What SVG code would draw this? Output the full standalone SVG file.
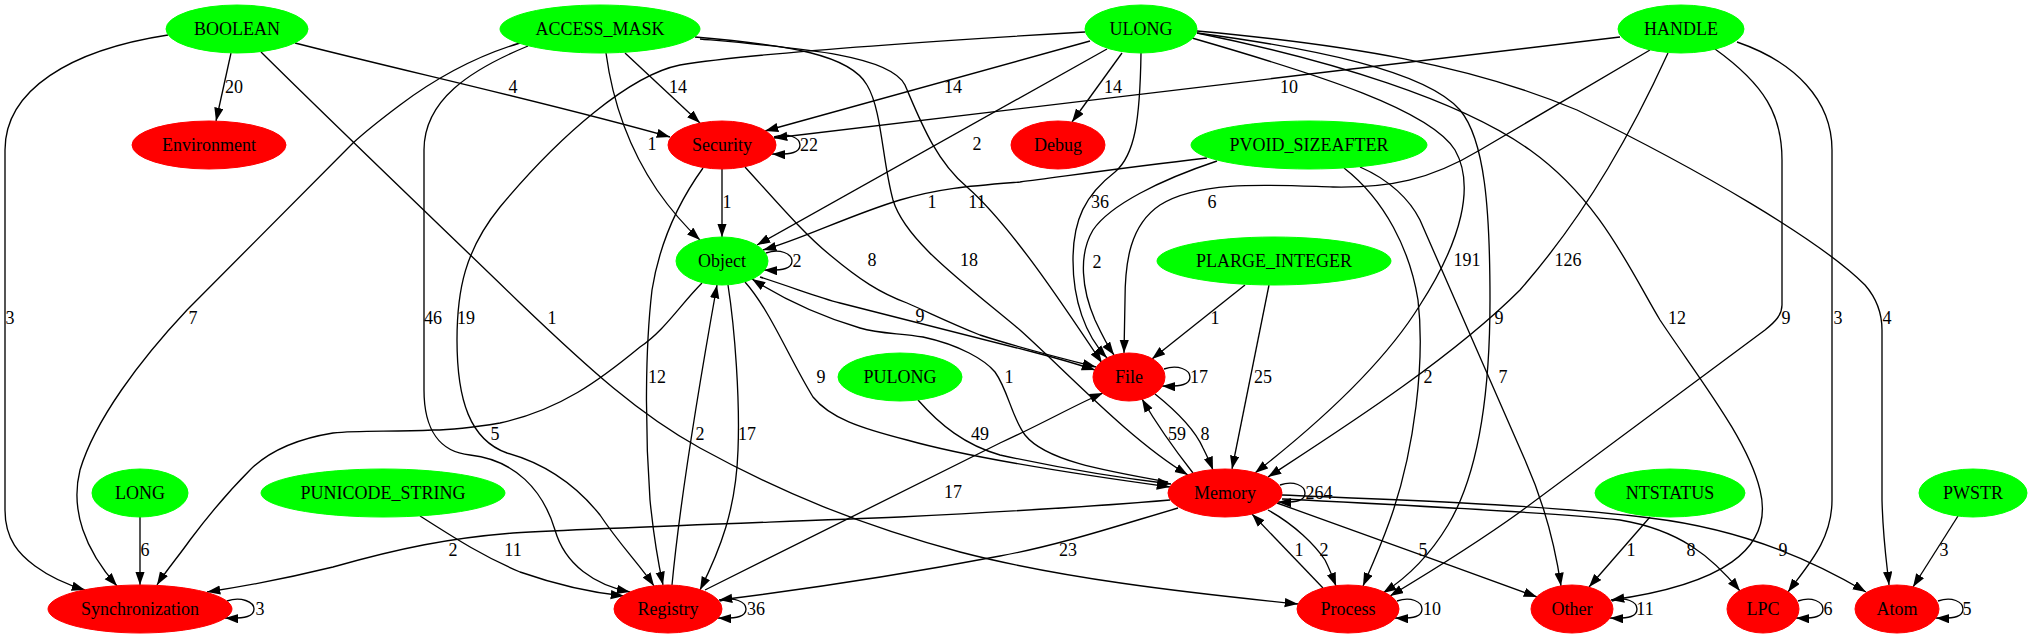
<svg xmlns="http://www.w3.org/2000/svg" width="2034" height="639" viewBox="0 0 2034 639">
<defs>
<marker id="a" markerWidth="14" markerHeight="10" refX="13.3" refY="4.67" orient="auto" markerUnits="userSpaceOnUse"><path d="M0,0 L13.3,4.67 L0,9.33 z" fill="#000"/></marker>
</defs>
<style>
text{font-family:"Liberation Serif","Times New Roman",serif;font-size:18px;fill:#000;text-anchor:middle}
.g ellipse{fill:#00ff00;stroke:#00ff00}
.r ellipse{fill:#ff0000;stroke:#ff0000}
#edges path{fill:none;stroke:#000;stroke-width:1.33;marker-end:url(#a)}
</style>
<rect width="2034" height="639" fill="#fff"/>
<g id="edges">
<path d="M231,53 L216,121"/><text x="234" y="93">20</text>
<path d="M295,43 C400,70 550,103 670,137"/><text x="513" y="93">4</text>
<path d="M168,35 C70,50 5,90 5,150 L5,510 C5,540 20,555 35,566 C50,577 65,584 85,590"/><text x="10" y="324">3</text>
<path d="M261,52 C350,140 450,235 520,303 C590,370 640,415 700,448 C780,492 860,525 960,552 C1060,578 1180,592 1298,604"/><text x="552" y="324">1</text>
<path d="M625,53 L700,123"/><text x="678" y="93">14</text>
<path d="M606,53 C613,105 630,150 657,190 C673,213 688,229 700,240"/><text x="652" y="150">1</text>
<path d="M520,43 C480,55 440,75 400,105 C380,120 365,132 353,143 L187,310 C140,360 95,420 80,470 C70,510 85,550 117,586"/><text x="193" y="324">7</text>
<path d="M528,46 C470,70 424,100 424,150 L424,390 C424,430 440,452 470,455 C515,460 543,490 555,530 C565,565 595,585 630,592"/><text x="433" y="324">46</text>
<path d="M1085,32 C950,40 760,52 680,65 C630,75 560,135 500,207 C465,250 457,290 457,340 C457,400 470,440 507,453 C550,465 580,490 600,515 C620,545 640,565 654,586"/><text x="466" y="324">19</text>
<path d="M695,37 C790,45 850,55 867,85 C882,110 882,160 893,200 C905,240 960,280 1020,330 C1070,375 1130,440 1188,475"/><text x="969" y="266">18</text>
<path d="M700,39 C800,48 890,55 905,85 C920,120 935,160 967,187 C1010,225 1060,300 1102,363"/><text x="977" y="208">11</text>
<path d="M1090,41 L765,131"/><text x="953" y="93">14</text>
<path d="M1122,53 L1072,122"/><text x="1113" y="93">14</text>
<path d="M1107,49 L757,245"/><text x="977" y="150">2</text>
<path d="M1141,53 C1140,120 1135,155 1115,172 C1085,195 1073,220 1073,260 C1073,300 1085,335 1107,358"/><text x="1100" y="208">36</text>
<path d="M1620,37 L774,138"/><text x="1289" y="93">10</text>
<path d="M1650,50 C1600,80 1540,115 1480,150 C1430,180 1390,188 1333,187 C1270,185 1200,180 1160,205 C1130,225 1125,262 1125,300 L1124,353"/><text x="1212" y="208">6</text>
<path d="M1668,53 C1635,125 1590,210 1520,290 C1450,360 1340,430 1268,477"/><text x="1568" y="266">126</text>
<path d="M1715,49 C1765,85 1782,115 1782,160 L1782,305 C1782,315 1775,322 1765,330 L1520,512 C1470,548 1425,575 1390,596"/><text x="1786" y="324">9</text>
<path d="M1737,42 C1795,62 1832,100 1832,150 L1832,500 C1832,540 1808,565 1788,592"/><text x="1838" y="324">3</text>
<path d="M1192,38 C1320,75 1430,110 1455,150 C1475,185 1462,240 1420,305 C1380,370 1310,430 1255,473"/><text x="1467" y="266">191</text>
<path d="M1197,33 C1310,48 1425,70 1460,110 C1485,140 1490,210 1490,300 C1490,410 1475,480 1448,525 C1430,555 1408,577 1383,593"/><text x="1499" y="324">9</text>
<path d="M1197,33 C1330,60 1460,100 1530,150 C1600,200 1630,270 1660,320 C1700,380 1748,440 1760,490 C1775,550 1720,585 1611,600"/><text x="1677" y="324">12</text>
<path d="M1197,31 C1350,45 1470,65 1577,110 C1700,170 1820,240 1865,285 C1878,300 1882,315 1882,330 L1882,500 C1883,540 1887,565 1889,585"/><text x="1887" y="324">4</text>
<path d="M1207,158 C1120,168 1060,177 1020,182 C970,186 940,188 900,200 C850,215 800,240 763,250"/><text x="932" y="208">1</text>
<path d="M1217,161 C1160,180 1110,205 1093,230 C1078,255 1082,290 1095,320 C1102,335 1109,348 1114,355"/><text x="1097" y="268">2</text>
<path d="M1344,168 C1385,200 1410,250 1418,300 C1425,360 1415,450 1390,520 C1380,548 1370,570 1363,586"/><text x="1428" y="383">2</text>
<path d="M1360,167 C1390,180 1410,200 1420,220 C1450,290 1495,390 1525,460 C1545,505 1555,545 1561,586"/><text x="1503" y="383">7</text>
<path d="M1245,285 L1152,359"/><text x="1215" y="324">1</text>
<path d="M1269,285 L1232,469"/><text x="1263" y="383">25</text>
<path d="M722,169 L722,237"/><text x="727" y="208">1</text>
<path d="M703,168 C680,200 660,240 652,290 C645,350 645,430 650,500 C654,540 658,562 663,585"/><text x="657" y="383">12</text>
<path d="M745,167 C775,200 805,235 830,255 C860,280 880,293 907,303 C930,313 950,323 980,335 C1020,348 1060,358 1096,367"/><text x="872" y="266">8</text>
<path d="M760,277 C800,290 820,298 840,303 L1033,352 C1060,359 1080,365 1095,370"/><text x="920" y="322">9</text>
<path d="M1168,482 C1100,470 1045,460 1025,435 C1012,418 1008,390 995,372 C985,360 960,345 923,337 C900,333 880,334 860,328 C820,316 785,300 752,279"/><text x="1009" y="383">1</text>
<path d="M745,282 C770,310 790,360 813,397 C830,418 860,428 907,440 C960,455 1060,472 1170,487"/><text x="821" y="383">9</text>
<path d="M918,400 C940,425 965,445 1000,455 C1060,468 1120,478 1171,484"/><text x="980" y="440">49</text>
<path d="M702,283 C680,305 665,330 640,347 C600,380 560,410 500,423 C470,428 450,430 433,430 C390,432 360,430 333,433 C290,440 265,455 250,470 C225,495 205,520 190,540 C178,557 165,572 157,585"/><text x="495" y="440">5</text>
<path d="M672,585 C680,500 700,380 717,285"/><text x="700" y="440">2</text>
<path d="M728,285 C735,330 740,400 738,450 C736,510 720,550 700,590"/><text x="747" y="440">17</text>
<path d="M705,590 L1000,443 C1040,425 1075,405 1103,393"/><text x="953" y="498">17</text>
<path d="M1170,500 C1100,506 1000,512 900,517 C750,523 600,528 513,533 C450,538 400,548 333,567 C280,580 240,587 207,592"/><text x="453" y="556">2</text>
<path d="M1178,508 C1120,525 1060,545 1000,556 C900,575 800,590 719,600"/><text x="1068" y="556">23</text>
<path d="M1268,510 C1295,525 1315,545 1325,560 C1330,570 1333,578 1336,586"/><text x="1324" y="556">2</text>
<path d="M1323,588 L1252,514"/><text x="1299" y="556">1</text>
<path d="M1277,503 C1350,530 1450,565 1537,597"/><text x="1423" y="556">5</text>
<path d="M1282,495 C1400,500 1550,505 1650,518 C1750,530 1820,565 1866,592"/><text x="1783" y="556">9</text>
<path d="M1282,499 C1400,505 1550,512 1620,520 C1680,530 1712,557 1740,591"/><text x="1691" y="556">8</text>
<path d="M1650,517 L1589,587"/><text x="1631" y="556">1</text>
<path d="M1958,516 L1913,587"/><text x="1944" y="556">3</text>
<path d="M140,517 L140,585"/><text x="145" y="556">6</text>
<path d="M420,516 C450,535 480,555 520,572 C560,586 595,593 624,596"/><text x="513" y="556">11</text>
<path d="M1155,394 C1175,410 1195,430 1203,448 C1207,456 1210,462 1213,470"/><text x="1205" y="440">8</text>
<path d="M1193,473 C1175,450 1160,430 1142,399"/><text x="1177" y="440">59</text>
<path d="M774,137 C788,132 800,138 800,145 C800,152 792,155 772,154"/><text x="809" y="151">22</text>
<path d="M766,253 C780,248 792,254 792,261 C792,268 784,271 764,270"/><text x="797" y="267">2</text>
<path d="M1164,369 C1178,364 1190,370 1190,377 C1190,384 1182,387 1162,386"/><text x="1199" y="383">17</text>
<path d="M1280,485 C1294,480 1305,486 1305,493 C1305,500 1298,503 1278,502"/><text x="1319" y="499">264</text>
<path d="M227,601 C241,596 254,602 254,609 C254,616 246,619 225,618"/><text x="260" y="615">3</text>
<path d="M720,601 C734,596 746,602 746,609 C746,616 738,619 718,618"/><text x="756" y="615">36</text>
<path d="M1397,601 C1411,596 1422,602 1422,609 C1422,616 1415,619 1395,618"/><text x="1432" y="615">10</text>
<path d="M1612,601 C1626,596 1637,602 1637,609 C1637,616 1630,619 1610,618"/><text x="1645" y="615">11</text>
<path d="M1798,601 C1812,596 1823,602 1823,609 C1823,616 1816,619 1796,618"/><text x="1828" y="615">6</text>
<path d="M1938,601 C1952,596 1963,602 1963,609 C1963,616 1956,619 1936,618"/><text x="1967" y="615">5</text>
</g>
<g id="BOOLEAN" class="g"><ellipse cx="237" cy="29" rx="71" ry="24"/><text x="237" y="34.5">BOOLEAN</text></g>
<g id="ACCESS_MASK" class="g"><ellipse cx="600" cy="29" rx="100" ry="24"/><text x="600" y="34.5">ACCESS_MASK</text></g>
<g id="ULONG" class="g"><ellipse cx="1141" cy="29" rx="56" ry="24"/><text x="1141" y="34.5">ULONG</text></g>
<g id="HANDLE" class="g"><ellipse cx="1681" cy="29" rx="63" ry="24"/><text x="1681" y="34.5">HANDLE</text></g>
<g id="Environment" class="r"><ellipse cx="209" cy="145" rx="77" ry="24"/><text x="209" y="150.5">Environment</text></g>
<g id="Security" class="r"><ellipse cx="722" cy="145" rx="54" ry="24"/><text x="722" y="150.5">Security</text></g>
<g id="Debug" class="r"><ellipse cx="1058" cy="145" rx="47" ry="24"/><text x="1058" y="150.5">Debug</text></g>
<g id="PVOID_SIZEAFTER" class="g"><ellipse cx="1309" cy="145" rx="118" ry="24"/><text x="1309" y="150.5">PVOID_SIZEAFTER</text></g>
<g id="Object" class="g"><ellipse cx="722" cy="261" rx="46" ry="24"/><text x="722" y="266.5">Object</text></g>
<g id="PLARGE_INTEGER" class="g"><ellipse cx="1274" cy="261" rx="117" ry="24"/><text x="1274" y="266.5">PLARGE_INTEGER</text></g>
<g id="PULONG" class="g"><ellipse cx="900" cy="377" rx="62" ry="24"/><text x="900" y="382.5">PULONG</text></g>
<g id="File" class="r"><ellipse cx="1129" cy="377" rx="36" ry="24"/><text x="1129" y="382.5">File</text></g>
<g id="LONG" class="g"><ellipse cx="140" cy="493" rx="48" ry="24"/><text x="140" y="498.5">LONG</text></g>
<g id="PUNICODE_STRING" class="g"><ellipse cx="383" cy="493" rx="122" ry="24"/><text x="383" y="498.5">PUNICODE_STRING</text></g>
<g id="Memory" class="r"><ellipse cx="1225" cy="493" rx="57" ry="24"/><text x="1225" y="498.5">Memory</text></g>
<g id="NTSTATUS" class="g"><ellipse cx="1670" cy="493" rx="75" ry="24"/><text x="1670" y="498.5">NTSTATUS</text></g>
<g id="PWSTR" class="g"><ellipse cx="1973" cy="493" rx="54" ry="24"/><text x="1973" y="498.5">PWSTR</text></g>
<g id="Synchronization" class="r"><ellipse cx="140" cy="609" rx="92" ry="24"/><text x="140" y="614.5">Synchronization</text></g>
<g id="Registry" class="r"><ellipse cx="668" cy="609" rx="54" ry="24"/><text x="668" y="614.5">Registry</text></g>
<g id="Process" class="r"><ellipse cx="1348" cy="609" rx="51" ry="24"/><text x="1348" y="614.5">Process</text></g>
<g id="Other" class="r"><ellipse cx="1572" cy="609" rx="41" ry="24"/><text x="1572" y="614.5">Other</text></g>
<g id="LPC" class="r"><ellipse cx="1763" cy="609" rx="36" ry="24"/><text x="1763" y="614.5">LPC</text></g>
<g id="Atom" class="r"><ellipse cx="1897" cy="609" rx="42" ry="24"/><text x="1897" y="614.5">Atom</text></g>
</svg>
